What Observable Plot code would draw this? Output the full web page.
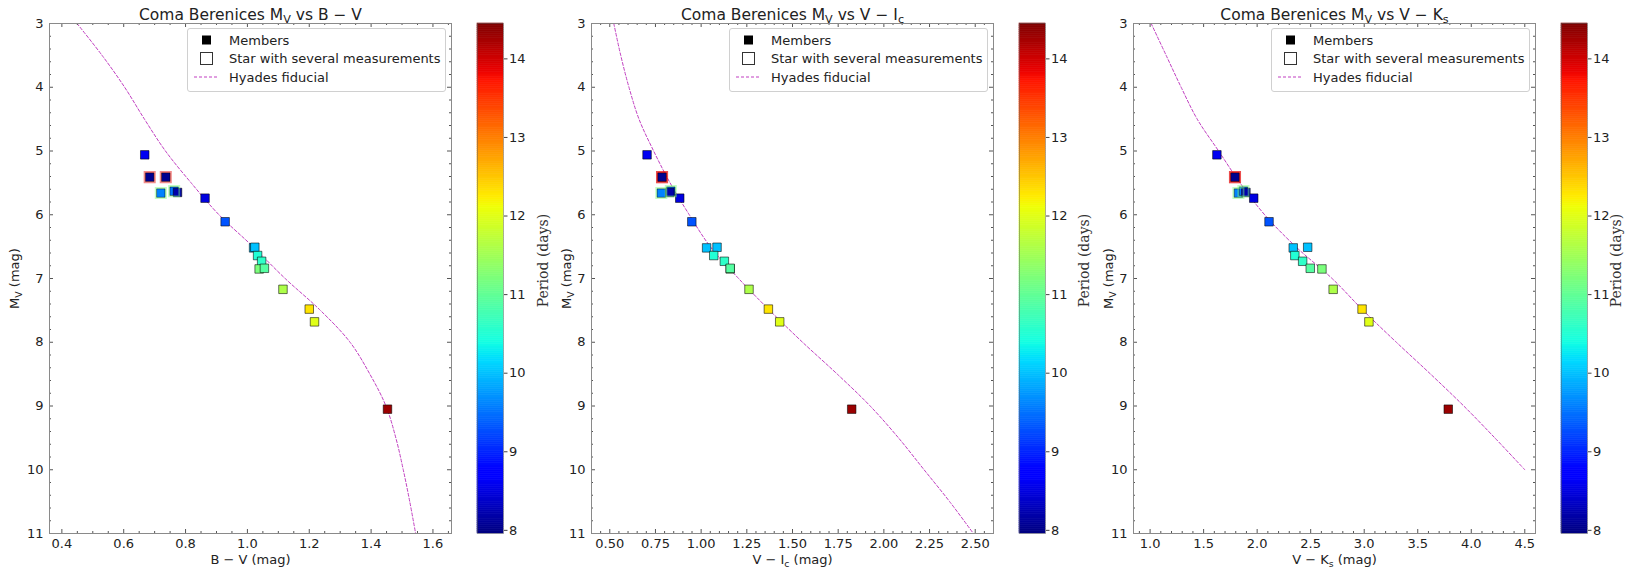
<!DOCTYPE html>
<html><head><meta charset="utf-8">
<script src="https://cdn.jsdelivr.net/npm/d3@7"></script>
<script src="https://cdn.jsdelivr.net/npm/@observablehq/plot@0.6"></script>
<style>
body{margin:0;background:#fff;}
#fig{position:relative;width:1632px;height:576px;background:#fff;font-family:"DejaVu Sans",sans-serif;overflow:hidden}
.abs{position:absolute;top:0}
.abs svg{max-width:none !important}
.legend{position:absolute;border:1px solid #d0d0d0;border-radius:3px;background:rgba(255,255,255,0.9);}
</style></head><body><div id="fig"></div>
<script>
// ---------------- data ----------------
const periodDomain = [7.96, 14.45];
const bv     = [0.668, 0.684, 0.736, 0.720, 0.763, 0.774, 0.863, 0.928, 1.020, 1.024, 1.033, 1.046, 1.038, 1.055, 1.115, 1.200, 1.217, 1.453];
const vi     = [0.704, 0.786, 0.786, 0.782, 0.834, 0.829, 0.883, 0.949, 1.030, 1.087, 1.069, 1.127, 1.159, 1.159, 1.262, 1.368, 1.430, 1.824];
const vk     = [1.624, 1.793, 1.793, 1.825, 1.872, 1.895, 1.968, 2.111, 2.337, 2.472, 2.352, 2.425, 2.605, 2.496, 2.710, 2.980, 3.044, 3.785];
const mv     = [5.06, 5.41, 5.41, 5.66, 5.63, 5.65, 5.74, 6.11, 6.52, 6.51, 6.64, 6.73, 6.85, 6.84, 7.17, 7.48, 7.68, 9.05];
const period = [8.6, 8.05, 8.05, 9.6, 9.5, 8.2, 8.5, 9.3, 10.0, 10.0, 10.5, 10.6, 11.2, 10.9, 11.6, 12.3, 12.0, 14.3];
// stars with several measurements (index into the arrays above) and the period colouring their open square
const multiIdx    = [1, 2, 3, 4];
const multiPeriod = [13.9, 13.9, 11.2, 11.2];
// Hyades fiducial
const fidMv = [3.0, 3.5, 4.0, 4.5, 5.0, 5.5, 6.0, 6.5, 7.0, 7.5, 8.0, 8.5, 9.0, 9.5, 10.0, 10.5, 11.0];
const fidBV = [0.449, 0.530, 0.603, 0.667, 0.735, 0.818, 0.908, 1.018, 1.122, 1.236, 1.332, 1.396, 1.448, 1.480, 1.504, 1.525, 1.544];
const fidVI = [0.522, 0.560, 0.605, 0.660, 0.740, 0.830, 0.935, 1.050, 1.205, 1.375, 1.555, 1.745, 1.925, 2.080, 2.220, 2.360, 2.490];
const fidVKMv = [3.0, 3.5, 4.0, 4.5, 5.0, 5.5, 6.0, 6.5, 7.0, 7.5, 8.0, 8.5, 9.0, 9.5, 10.0];
const fidVK   = [1.010, 1.150, 1.290, 1.440, 1.640, 1.840, 2.070, 2.360, 2.700, 2.990, 3.300, 3.620, 3.930, 4.220, 4.500];
// ticks
const yTicks = [3, 4, 5, 6, 7, 8, 9, 10, 11];
const xTicksBV = [0.4, 0.6, 0.8, 1.0, 1.2, 1.4, 1.6];
const xTicksVI = [0.5, 0.75, 1.0, 1.25, 1.5, 1.75, 2.0, 2.25, 2.5];
const xTicksVK = [1.0, 1.5, 2.0, 2.5, 3.0, 3.5, 4.0, 4.5];
const cbTicks = [8, 9, 10, 11, 12, 13, 14];

// ---------------- layout ----------------
const FL = [49, 591, 1133], FW = 402, FT = 23, FH = 510, ML = 50, MR = 10, MB = 576 - FT - FH;
const cbLabelDx = [40, 39, 29];
const yLabelDx = [-35, -25, -25];

function jet(t) {
  t = Math.max(0, Math.min(1, t));
  const seg = pts => { for (let i = 1; i < pts.length; i++) if (t <= pts[i][0]) { const [t0, v0] = pts[i-1], [t1, v1] = pts[i]; return v0 + (v1 - v0) * (t - t0) / (t1 - t0); } return pts[pts.length-1][1]; };
  const r = seg([[0,0],[0.35,0],[0.66,1],[0.89,1],[1,0.5]]);
  const g = seg([[0,0],[0.125,0],[0.375,1],[0.64,1],[0.91,0],[1,0]]);
  const b = seg([[0,0.5],[0.11,1],[0.34,1],[0.65,0],[1,0]]);
  return d3.rgb(r*255, g*255, b*255).formatHex();
}
const colorOpt = {type: "linear", domain: periodDomain, interpolate: jet};

function minorTicks(domain, step, majors) {
  const out = [];
  const s = Math.ceil(domain[0] / step - 1e-9), e = Math.floor(domain[1] / step + 1e-9);
  for (let i = s; i <= e; i++) { const v = +(i * step).toFixed(6); if (!majors.some(m => Math.abs(m - v) < 1e-6)) out.push(v); }
  return out;
}

const panels = [
  {xs: bv, fid: fidBV, fidMv: fidMv, xDomain: [0.36, 1.66], xTicks: xTicksBV, minor: 0.05, fmt: d3.format(".1f"),
   title: "Coma Berenices M_V vs B − V", xlabel: "B − V (mag)"},
  {xs: vi, fid: fidVI, fidMv: fidMv, xDomain: [0.4, 2.6], xTicks: xTicksVI, minor: 0.05, fmt: d3.format(".2f"),
   title: "Coma Berenices M_V vs V − I_c", xlabel: "V − I_c (mag)"},
  {xs: vk, fid: fidVK, fidMv: fidVKMv, xDomain: [0.845, 4.6], xTicks: xTicksVK, minor: 0.1, fmt: d3.format(".1f"),
   title: "Coma Berenices M_V vs V − K_s", xlabel: "V − K_s (mag)"}
];

function subscripts(root) {
  const NS = "http://www.w3.org/2000/svg";
  root.querySelectorAll("text").forEach(t => {
    const s = t.textContent;
    if (!s.includes("_") || t.querySelector("tspan")) return;
    while (t.firstChild) t.removeChild(t.firstChild);
    const parts = s.split(/_(.)/);
    let shifted = false;
    parts.forEach((p, i) => {
      if (!p) return;
      const ts = document.createElementNS(NS, "tspan");
      ts.textContent = p;
      if (i % 2 === 1) { ts.setAttribute("font-size", "72%"); ts.setAttribute("dy", "3"); shifted = true; }
      else if (shifted) { ts.setAttribute("dy", "-3"); shifted = false; }
      t.appendChild(ts);
    });
  });
}

const fig = document.getElementById("fig");
const tickStroke = "#555";

panels.forEach((cfg, k) => {
  const rows = mv.map((m, i) => ({x: cfg.xs[i], y: m, p: period[i]}));
  const multi = multiIdx.map((idx, j) => ({x: cfg.xs[idx], y: mv[idx], p: multiPeriod[j]}));
  const fid = cfg.fidMv.map((m, i) => ({x: cfg.fid[i], y: m}));
  const xMinor = minorTicks(cfg.xDomain, cfg.minor, cfg.xTicks);
  const yMinor = minorTicks([3, 11], 0.2, yTicks);
  const chart = Plot.plot({
    width: ML + FW + MR, height: 576,
    marginLeft: ML, marginRight: MR, marginTop: FT, marginBottom: MB,
    x: {domain: cfg.xDomain, axis: null},
    y: {domain: [3, 11], reverse: true, axis: null},
    color: colorOpt,
    style: {fontFamily: "DejaVu Sans", fontSize: "13px", color: "#222", background: "transparent", overflow: "visible", maxWidth: "none"},
    marks: [
      Plot.line(fid, {x: "x", y: "y", stroke: "#c13fc1", strokeWidth: 1, strokeDasharray: "3,2", curve: "catmull-rom", clip: true}),
      Plot.dot(rows, {x: "x", y: "y", symbol: "square", r: 4.8, fill: "p", stroke: "#000", strokeOpacity: 0.55, strokeWidth: 1}),
      Plot.dot(multi, {x: "x", y: "y", symbol: "square", r: 5.8, fill: "none", stroke: "p", strokeOpacity: 0.45, strokeWidth: 1.8}),
      // inward ticks on all four sides
      Plot.tickX(cfg.xTicks, {x: d => d, insetTop: FH - 4, stroke: tickStroke}),
      Plot.tickX(cfg.xTicks, {x: d => d, insetBottom: FH - 4, stroke: tickStroke}),
      Plot.tickX(xMinor, {x: d => d, insetTop: FH - 2, stroke: tickStroke}),
      Plot.tickX(xMinor, {x: d => d, insetBottom: FH - 2, stroke: tickStroke}),
      Plot.tickY(yTicks, {y: d => d, insetRight: FW - 4, stroke: tickStroke}),
      Plot.tickY(yTicks, {y: d => d, insetLeft: FW - 4, stroke: tickStroke}),
      Plot.tickY(yMinor, {y: d => d, insetRight: FW - 2, stroke: tickStroke}),
      Plot.tickY(yMinor, {y: d => d, insetLeft: FW - 2, stroke: tickStroke}),
      Plot.frame({stroke: "#8a8a8a"}),
      Plot.axisX({ticks: cfg.xTicks, tickSize: 0, tickPadding: 5, tickFormat: cfg.fmt, fontSize: 13, label: null}),
      Plot.axisY({ticks: yTicks, tickSize: 0, tickPadding: 6, tickFormat: d3.format("d"), fontSize: 13, label: null}),
      Plot.text([cfg.title], {text: d => d, frameAnchor: "top", lineAnchor: "bottom", textAnchor: "middle", dy: -4, fontSize: 15.5, fill: "#222"}),
      Plot.text([cfg.xlabel], {text: d => d, frameAnchor: "bottom", lineAnchor: "top", textAnchor: "middle", dy: 21, fontSize: 13, fill: "#222"}),
      Plot.text(["M_V (mag)"], {text: d => d, frameAnchor: "left", textAnchor: "middle", rotate: -90, dx: yLabelDx[k], fontSize: 13, fill: "#222"})
    ]
  });
  const wrap = document.createElement("div");
  wrap.className = "abs";
  wrap.style.left = (FL[k] - ML) + "px";
  wrap.style.width = (ML + FW + MR) + "px";
  wrap.appendChild(chart);
  fig.appendChild(wrap);
  subscripts(chart);

  // colour bar
  const n = 240, step = (periodDomain[1] - periodDomain[0]) / n;
  const cells = d3.range(n).map(i => ({lo: periodDomain[0] + i * step, hi: periodDomain[0] + (i + 1) * step}));
  const cbW = 26 + 60;
  const cb = Plot.plot({
    width: cbW, height: 576, marginLeft: 0, marginRight: 60, marginTop: FT, marginBottom: MB,
    x: {domain: [0, 1], axis: null},
    y: {domain: periodDomain, axis: null},
    color: colorOpt,
    style: {fontFamily: "DejaVu Sans", fontSize: "13px", color: "#222", background: "transparent", overflow: "visible", maxWidth: "none"},
    marks: [
      Plot.rect(cells, {x1: 0, x2: 1, y1: "lo", y2: "hi", fill: d => (d.lo + d.hi) / 2, stroke: d => (d.lo + d.hi) / 2, strokeWidth: 0.6}),
      Plot.frame({stroke: "#666", strokeOpacity: 0.5}),
      Plot.axisY({anchor: "right", ticks: cbTicks, tickSize: 3.5, tickPadding: 2, tickFormat: d3.format("d"), fontSize: 13, label: null, stroke: "#444"}),
      Plot.text(["Period (days)"], {text: d => d, frameAnchor: "right", textAnchor: "middle", rotate: -90, dx: cbLabelDx[k], dy: -18, fontSize: 14, fill: "#333", fontFamily: "DejaVu Serif"})
    ]
  });
  const cw = document.createElement("div");
  cw.className = "abs";
  cw.style.left = (FL[k] + 428) + "px";
  cw.style.width = cbW + "px";
  cw.appendChild(cb);
  fig.appendChild(cw);

  // legend
  const lg = document.createElement("div");
  lg.className = "legend";
  lg.style.left = (FL[k] + 138) + "px";
  lg.style.top = (FT + 5) + "px";
  lg.style.width = "257px";
  lg.style.height = "62px";
  lg.innerHTML = `<svg width="257" height="62" style="font-family:'DejaVu Sans';font-size:13px;fill:#222">
    <rect x="14" y="6.5" width="9" height="9" fill="#000"/>
    <text x="41" y="15.5">Members</text>
    <rect x="12.5" y="23.5" width="12" height="12" fill="#fff" stroke="#333" stroke-width="1"/>
    <text x="41" y="34">Star with several measurements</text>
    <line x1="6" x2="29" y1="48" y2="48" stroke="#c13fc1" stroke-width="1" stroke-dasharray="3,2"/>
    <text x="41" y="52.5">Hyades fiducial</text>
  </svg>`;
  fig.appendChild(lg);
});
</script></body></html>
